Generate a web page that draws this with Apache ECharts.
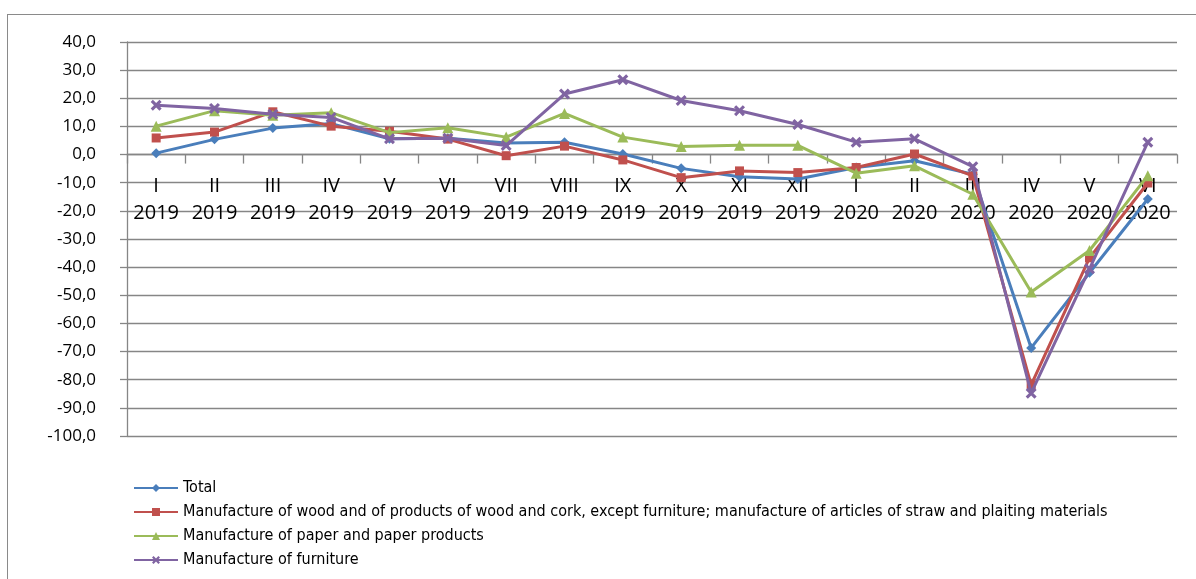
<!DOCTYPE html>
<html>
<head>
<meta charset="utf-8">
<script src="https://cdn.jsdelivr.net/npm/echarts@6/dist/echarts.min.js"></script>
<style>
html,body{margin:0;padding:0;background:#fff;}
#wrap{position:relative;width:1196px;height:579px;overflow:hidden;}
#frame{position:absolute;left:7px;top:14px;width:1300px;height:700px;border:1.5px solid #8a8a8a;box-sizing:border-box;}
#chart{position:absolute;left:0;top:0;width:1196px;height:579px;}
</style>
</head>
<body>
<div id="wrap"><div id="frame"></div><div id="chart"></div></div>
<script>
const categories = ["I\n2019","II\n2019","III\n2019","IV\n2019","V\n2019","VI\n2019","VII\n2019","VIII\n2019","IX\n2019","X\n2019","XI\n2019","XII\n2019","I\n2020","II\n2020","III\n2020","IV\n2020","V\n2020","VI\n2020"];
const seriesNames = ["Total","Manufacture of wood and of products of wood and cork, except furniture; manufacture of articles of straw and plaiting materials","Manufacture of paper and paper products","Manufacture of furniture"];
const total = [0.5, 5.4, 9.4, 11.0, 5.6, 5.8, 4.1, 4.4, 0.2, -4.9, -7.9, -8.7, -4.6, -2.2, -7.0, -68.7, -42.0, -15.8];
const wood = [5.9, 8.0, 15.2, 10.1, 8.3, 5.5, -0.4, 3.0, -1.9, -8.2, -5.8, -6.4, -4.6, 0.2, -7.6, -81.8, -36.7, -10.1];
const paper = [10.1, 15.6, 14.0, 14.9, 7.8, 9.5, 6.2, 14.6, 6.2, 2.9, 3.3, 3.3, -6.6, -4.0, -14.1, -48.8, -34.1, -7.5];
const furniture = [17.5, 16.4, 14.3, 13.2, 5.6, 5.8, 3.2, 21.5, 26.6, 19.2, 15.6, 10.7, 4.4, 5.6, -4.3, -84.8, -40.6, 4.4];
const yMin = -100, yMax = 40, yStep = 10;

const colors = ['#4A7EBB','#C0504D','#9BBB59','#8064A2'];
const xPath = 'path://M2,0 L5,3 L8,0 L10,2 L7,5 L10,8 L8,10 L5,7 L2,10 L0,8 L3,5 L0,2 Z';
const symbols = ['diamond','rect','triangle',xPath];
const symbolSizes = [10,9,11,11];
const datas = [total, wood, paper, furniture];

const H = 579, gridTop = 42, gridBottom = 143;
const gridH = H - gridTop - gridBottom;
// place the category axis where value 0 lies
const zeroOffset = -gridH * (0 - yMin) / (yMax - yMin);

const chart = echarts.init(document.getElementById('chart'), null, {renderer:'canvas'});
chart.setOption({
  animation:false,
  color: colors,
  grid:{left:127, top:gridTop, right:19, bottom:gridBottom},
  legend:{
    orient:'vertical', left:128, top:475,
    itemWidth:44, itemHeight:10, itemGap:8,
    textStyle:{fontFamily:'"DejaVu Sans Condensed","Liberation Sans",sans-serif', fontSize:16, lineHeight:16, color:'#000'},
    data: seriesNames
  },
  xAxis:{
    type:'category', data:categories, boundaryGap:true, position:'bottom', offset: zeroOffset,
    axisLine:{onZero:false, lineStyle:{color:'#868686', width:1.3}},
    axisTick:{show:true, length:9, lineStyle:{color:'#868686', width:1.3}},
    axisLabel:{margin:18, fontFamily:'"Open Sans",sans-serif', fontSize:20, lineHeight:27, color:'#000', interval:0}
  },
  yAxis:{
    type:'value', min:yMin, max:yMax, interval:yStep,
    axisLine:{show:true, lineStyle:{color:'#868686', width:1.3}},
    axisTick:{show:true, length:7, lineStyle:{color:'#868686', width:1.3}},
    splitLine:{show:true, lineStyle:{color:'#868686', width:1.3}},
    axisLabel:{margin:31, fontFamily:'"Open Sans",sans-serif', fontSize:17, color:'#000',
      formatter: v => v.toFixed(1).replace('.', ',')}
  },
  series: datas.map((d,i)=>({
    name: seriesNames[i], type:'line', data:d,
    symbol: symbols[i], symbolSize: symbolSizes[i],
    lineStyle:{width:3, color:colors[i]},
    itemStyle:{color:colors[i]},
    z: 2+i
  }))
});
</script>
</body>
</html>
